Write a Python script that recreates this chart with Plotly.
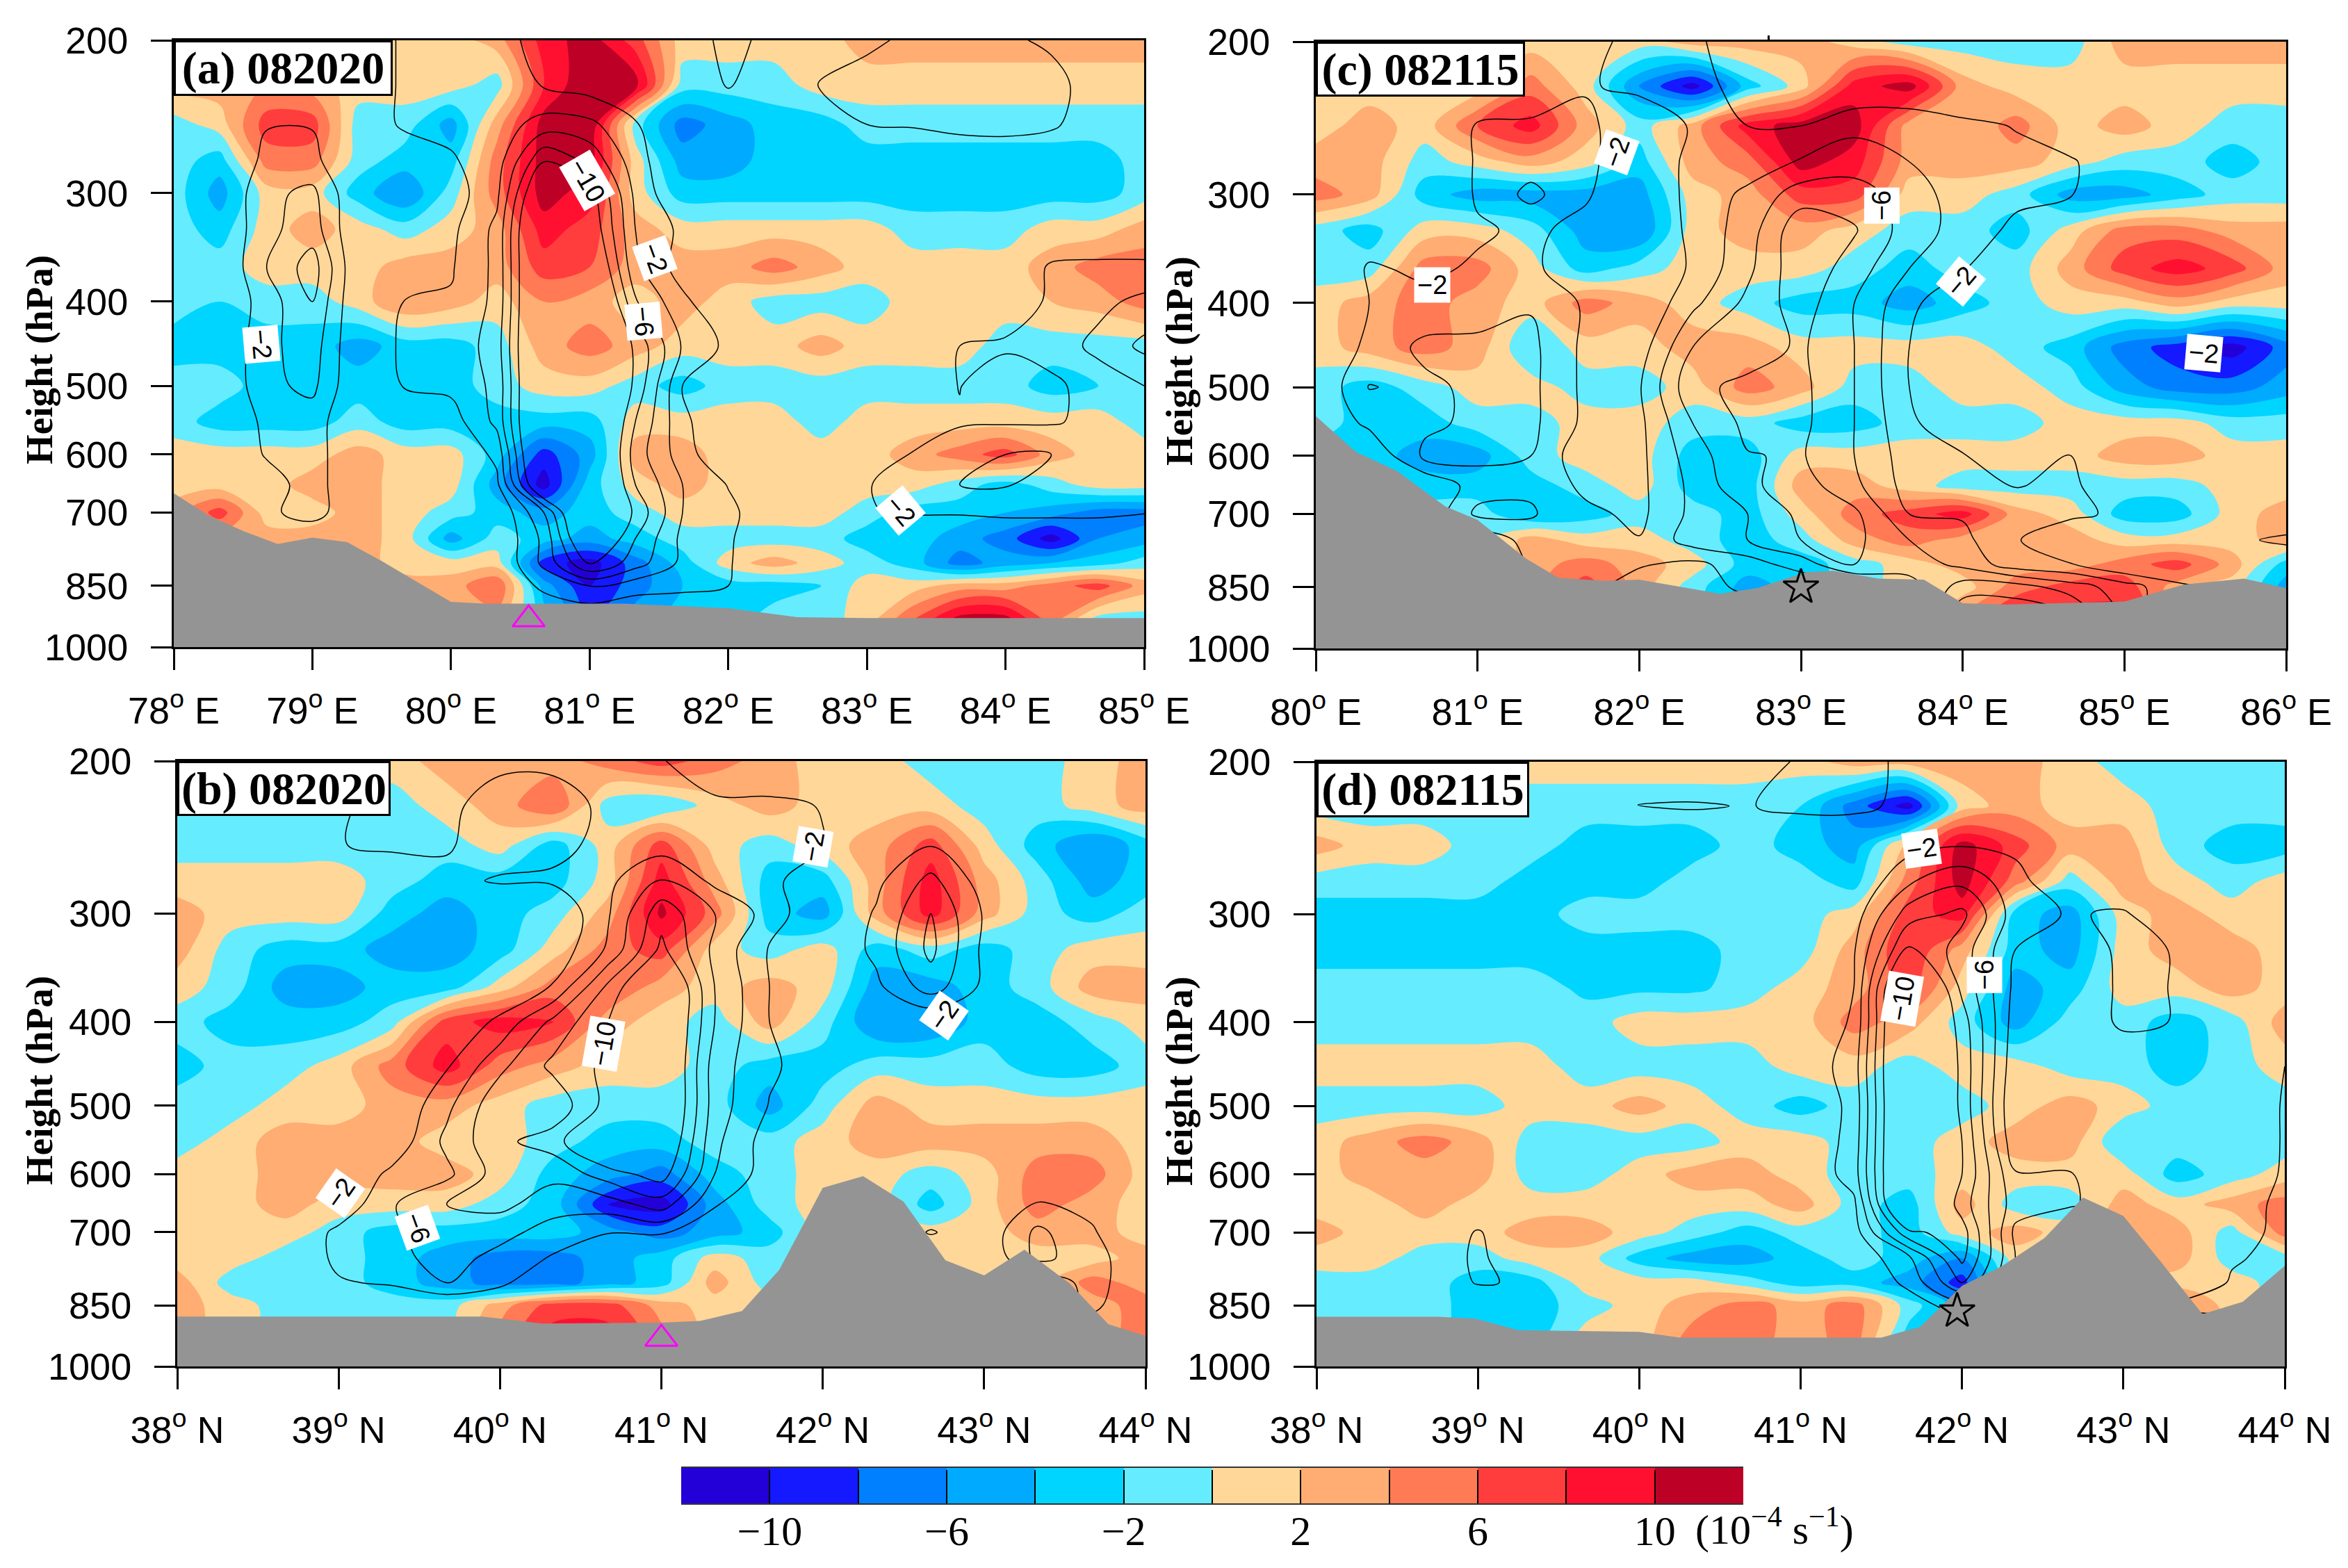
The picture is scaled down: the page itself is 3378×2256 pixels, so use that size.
import math

import plotly.graph_objects as go

levels = [200, 225, 250, 275, 300, 330, 365, 400, 450, 500, 550, 600, 650, 700, 750, 800, 850, 930]

lon_a = [78, 78.33, 78.67, 79, 79.33, 79.67, 80, 80.33, 80.67, 81, 81.33, 81.67, 82, 82.33, 82.67, 83, 83.33, 83.67, 84, 84.33, 84.67, 85]
lon_c = [80, 80.33, 80.67, 81, 81.33, 81.67, 82, 82.33, 82.67, 83, 83.33, 83.67, 84, 84.33, 84.67, 85, 85.33, 85.67, 86]
lat_bd = [38, 38.33, 38.67, 39, 39.33, 39.67, 40, 40.33, 40.67, 41, 41.33, 41.67, 42, 42.33, 42.67, 43, 43.33, 43.67, 44]

# shading: vorticity (10^-4 s^-1)
vort_a = [
    [1,1,1,1,1,1,1,3,9,11,7,1,1,1,1,3,3,3,3,3,3,3],
    [3,3,4,3,1,1,1,-1,8,12,11,-1,-1,-1,1,1,1,1,1,1,1,1],
    [-1,1,7,7,-1,-1,-5,3,11,12,-1,-7,-5,-3,-3,-1,-1,-1,-1,-1,-1,-1],
    [-1,-3,5,5,-1,-3,-3,5,11,11,1,-5,-5,-3,-3,-3,-3,-3,-3,-3,-3,-1],
    [-1,-5,1,1,-3,-6,-1,5,11,9,1,-3,-3,-3,-3,-3,-3,-3,-3,-3,-3,-1],
    [-1,-3,1,3,1,-1,1,3,9,7,3,1,1,1,1,1,-1,-1,-1,1,1,3],
    [-1,-1,1,1,1,3,3,3,7,6,3,3,3,5,3,1,1,1,1,3,5,5],
    [-1,-2,-1,-1,1,4,3,1,4,3,1,3,1,-1,-1,-1,1,1,1,2,3,5],
    [-3,-3,-3,-3,-5,-3,-3,-1,3,5,3,1,1,1,3,1,1,1,-1,-1,-1,-1],
    [-1,-1,-3,-3,-3,-3,-3,-1,1,1,-1,-3,-1,-1,-1,-1,-1,-1,-1,-3,-2,-1],
    [-1,-3,-3,-3,-1,-3,-3,-3,-3,-3,1,1,1,1,-1,1,1,1,1,1,1,-1],
    [1,1,1,1,3,1,1,-3,-9,-5,3,3,1,1,1,1,3,5,7,3,1,1],
    [1,1,1,3,3,1,1,-5,-11,-3,1,3,1,1,1,1,1,-1,-3,-1,1,1],
    [3,7,1,1,3,1,-1,-3,-5,-3,-1,1,1,1,1,-1,-3,-3,-4,-5,-7,-7],
    [3,3,3,3,3,1,-5,-1,-3,-5,-3,-1,-1,-1,-1,-3,-3,-5,-7,-11,-6,-5],
    [3,3,3,3,3,1,1,1,-9,-11,-7,-3,1,3,1,-1,-3,-7,-5,-4,-3,-1],
    [3,3,3,3,3,3,3,6,-5,-10,-7,-4,-3,-3,-2,1,1,3,3,5,7,3],
    [3,3,3,3,3,3,3,3,-3,-8,-5,-3,-3,-1,-1,1,6,11,11,5,-1,-1],
]
vort_c = [
    [1,1,1,1,1,1,1,3,3,3,1,-1,-1,-1,-1,3,3,3,3],
    [1,1,1,1,5,1,-6,-11,-3,1,9,11,3,1,1,1,1,1,1],
    [1,3,1,6,9,3,-1,3,9,11,11,3,2,5,1,3,1,-1,-1],
    [3,3,-1,1,3,1,-3,3,5,11,9,3,3,3,1,-1,-1,-3,-1],
    [5,3,-3,-5,-5,-5,-5,1,3,7,7,1,1,-1,-5,-5,-3,-1,-1],
    [-1,-3,1,1,-1,-5,-6,1,3,3,1,-1,-1,-3,1,5,5,3,3],
    [-1,-1,5,5,1,-3,-1,1,1,1,-1,-3,-1,-1,3,7,9,7,3],
    [1,3,5,3,1,5,3,1,-1,-3,-3,-5,-3,-1,1,1,3,1,1],
    [1,3,5,3,-2,1,1,3,3,1,1,1,1,-1,-3,-7,-9,-11,-7],
    [-1,-3,-1,1,1,-1,-1,1,5,3,-1,-1,1,1,-1,-5,-7,-7,-5],
    [-1,-3,-3,-1,-1,1,1,-1,-1,-3,-3,-1,-1,-1,1,1,1,-1,-1],
    [-3,-3,-5,-5,-1,1,1,-3,-3,1,1,1,1,1,1,3,3,1,1],
    [-3,-3,-3,-3,-3,-1,1,-3,-3,3,3,1,-1,-1,-1,-1,-1,1,1],
    [-1,-1,-1,-1,-4,-3,-1,-1,-3,1,5,7,9,3,1,-3,-3,1,3],
    [-1,-1,-1,-1,3,1,1,-1,-3,-1,3,5,3,3,3,1,1,1,3],
    [-1,-1,-1,-1,3,5,3,1,-3,-3,-1,1,3,3,3,5,7,3,-3],
    [-1,-1,-1,-1,3,7,3,-1,-5,-3,-1,1,1,5,7,7,3,1,-5],
    [-1,-1,-1,-1,3,3,3,-1,-5,-3,-1,1,5,9,9,9,3,1,-5],
]
vort_b = [
    [1,1,1,1,1,3,3,3,5,7,5,3,1,1,-1,-1,-1,1,3],
    [-1,-1,-1,-1,-1,1,3,6,-1,-2,1,3,1,1,1,-1,-1,1,3],
    [-1,-1,-1,-1,-1,-1,1,-3,1,7,1,-1,1,3,7,1,-3,-6,-3],
    [1,1,1,1,-1,-3,-3,-3,1,9,3,-3,-3,3,9,3,-1,-5,-3],
    [3,1,1,1,-3,-5,-3,-1,3,10.5,5,-3,-5,3,9,3,-1,-3,-1],
    [3,-1,-3,-3,-5,-5,-3,1,5,7,1,-1,1,-3,-1,-3,-1,1,1],
    [1,-1,-5,-5,-3,-3,1,5,6,3,1,3,1,-5,-5,-3,-1,3,3],
    [-1,-3,-3,-3,-1,7,9,8,3,1,-1,3,-1,-6,-6,-3,-3,-1,1],
    [-3,-1,-1,1,5,9,5,3,1,1,-1,-3,-3,-1,-1,-1,-3,-3,-1],
    [-1,-1,1,1,3,3,1,-1,-1,-1,-1,-5,-1,3,1,1,1,1,1],
    [-1,1,3,3,3,1,1,-1,-3,-3,-1,-1,1,3,3,3,3,3,1],
    [1,1,3,3,3,3,1,-3,-5,-7,-3,-1,1,1,-1,1,5,5,1],
    [1,1,3,1,1,1,-1,-3,-10,-11,-5,-1,1,1,-3,1,5,3,1],
    [1,1,1,-1,-3,-3,-3,-3,-5,-7,-5,-3,1,1,1,1,3,3,1],
    [1,1,-1,-1,-3,-5,-7,-7,-5,-3,1,-1,1,1,1,1,1,1,3],
    [3,-1,-1,-1,-3,-5,-7,-7,-5,-3,3,-1,1,1,1,1,1,5,3],
    [3,1,-1,-1,-1,-1,3,7,7,3,1,1,1,1,1,1,1,3,5],
    [3,1,-1,-1,-1,-1,5,9,9,5,1,1,1,1,1,1,1,3,5],
]
vort_d = [
    [1,1,1,1,1,1,1,1,1,1,3,3,3,3,1,-1,-1,-1,-1],
    [-1,-1,-1,-1,-1,-1,-1,-1,-1,-2,-7,-11,1,3,1,1,-1,-1,-1],
    [3,1,1,-1,-1,-3,-3,-3,-1,-3,-5,3,11,7,3,3,-1,-3,-3],
    [-1,-1,-1,-1,-3,-3,-3,-1,-1,-1,-3,5,11,5,-1,3,1,-1,1],
    [-3,-3,-3,-3,-3,-1,-1,-1,-1,-1,1,7,9,-3,-5,1,3,1,1],
    [-3,-3,-3,-3,-3,-3,-3,-3,-1,-1,3,8,3,-3,-5,1,3,3,1],
    [-1,-1,-1,-1,-1,-2.5,-2.5,-2.5,-1,1,3,7,1,-5,-3,1,1,3,1],
    [-1,-1,-1,-1,-1,-1,1,1,1,1,5,3,-1,-5,-1,-1,-3,-1,3],
    [1,1,1,1,1,-1,-1,-1,-1,1,1,-1,1,1,-1,-1,-3,-1,1],
    [-1,-1,-1,-1,1,1,3,1,-1,-3,-1,-1,-1,1,3,1,-1,-1,-1],
    [1,3,5,3,-1,-1,-1,-1,1,1,-1,-1,1,3,3,-2,-1,-1,-1],
    [1,3,3,3,-1,-1,1,3,3,1,-1,-1,1,1,1,1,-3,-1,1],
    [1,1,3,1,1,1,1,1,1,3,-1,-3,3,-1,-1,3,1,3,5],
    [3,1,1,1,3,3,1,-1,-3,-1,-1,-3,1,3,1,3,3,-1,5],
    [1,1,-1,-1,1,1,-3,-5,-5,-3,-1,-3,-6,1,1,3,3,-1,-1],
    [-1,-1,-1,-3,-3,1,1,1,-1,-3,-3,-5,-9,1,1,1,1,1,-1],
    [-1,-1,-1,-3,-3,-1,1,3,5,3,5,-1,-5,1,1,1,5,1,-1],
    [-1,-1,-1,-3,-3,1,1,5,5,3,5,-3,-5,1,1,1,7,1,-1],
]

# black contours (negative field only), levels -2 to -10
omega_a = [
    [0,0,0,0,0,-2.5,-2.5,-3.5,-0.5,0,0,0,-3,-1,0,-1.5,-2.5,-2.5,-2.5,-1.5,0,0],
    [0,0,0,0,0,-2.5,-2.5,-3.5,-1.8,-1,0,0,-2.2,-0.5,-2.2,-3,-3,-3,-3,-3,-0.5,0],
    [0,0,-1.9,-1.9,0,-2.5,-2.5,-3,-4.8,-4.5,-2.2,0,0,0,-1,-2,-2.2,-2.8,-3,-2.4,-0.5,0],
    [0,0,-2.5,-2.5,0,0,-1.8,-3,-9.8,-7.5,-2.8,0,0,0,0,0,0,0,0,0,0,0],
    [0,0,-3.5,-4.5,0,0,-1,-3.5,-14,-11,-3.5,0,0,0,0,0,0,0,0,0,0,0],
    [0,0,-3.5,-5,0,0,-1.5,-4.5,-16,-12,-4,-1.5,0,0,0,0,0,0,0,0,0,0],
    [0,0,-4,-7,0,0,-1.8,-4.5,-16,-14,-4.5,-1,0,0,0,0,0,0,0,-2.3,-2.5,-2.5],
    [0,0,-3,-6,0,-2.1,-2.2,-4.5,-16,-16,-6.2,-2.5,0,0,0,0,0,0,0,-2.5,-3.5,-4.5],
    [0,0,-3.5,-5,0,-2.5,-2.5,-5,-16,-16,-9.5,-3.8,-1.5,0,0,0,0,-2,-2.5,-3,-4.5,-6.5],
    [0,0,-3.5,-4.5,0,-2.2,-2.5,-4.5,-16,-16,-9.5,-2,0,0,0,0,0,-2.1,0,-1.5,-3,-4],
    [0,0,-2.5,-3,0,0,-1,-4.5,-16,-16,-8,-2.5,0,0,0,0,0,-1.7,-1.8,-1.8,-2.5,-3],
    [0,0,-2.2,-3,0,0,0,-2.5,-16,-16,-7,-3,0,0,0,0,-2.2,-3.5,-4,-4,-3.5,-2],
    [0,0,-1,-3,0,0,0,-1.5,-14,-16,-8,-4,-1.9,0,0,-1.8,-3.5,-4,-4.2,-2.5,-2.5,-2.5],
    [0,0,-1.5,-3,0,0,0,0,-6,-16,-9.5,-4,-2.5,-0.5,0,-1.9,-2.2,-2.2,-2.5,-2.5,-2.5,-2.1],
    [0,0,0,0,0,0,0,0,-4.5,-14,-8,-3.5,-2.3,0,0,0,0,0,0,0,0,0],
    [0,0,0,0,0,0,0,0,-4.5,-10.2,-7,-3.5,-2.2,0,0,0,0,0,0,0,0,0],
    [0,0,0,0,0,0,0,0,-2.5,-4.2,-2.8,-2.5,-2,0,0,0,0,0,0,0,0,0],
    [0,0,0,0,0,0,0,0,0,0,0,0,0,0,0,0,0,0,0,0,0,0],
]
omega_c = [
    [0,0,0,0,0,-1.5,-2.5,-2.5,-0.5,0,0,0,0,0,0,0,0,0,0],
    [0,0,0,0,0,-1.8,-2.5,-2.5,-1.5,0,0,0,0,0,0,0,0,0,0],
    [0,0,0,-2.2,-2.5,-2.5,-0.5,-2.2,-2,-2,-3.5,-3.5,-2.5,-1.9,0,0,0,0,0],
    [0,0,0,-2.2,-3,-2.5,-0.5,-2.5,-2.8,-4.2,-5,-4,-3,-2.5,-2.3,0,0,0,0],
    [0,0,0,-2.2,-4.6,-2.2,-0.5,-2.5,-4.5,-7,-7,-5,-3,-2.5,-2.1,0,0,0,0],
    [0,-1,0,-1.8,-2.3,-1.5,0,-2.5,-5,-9.5,-8.2,-5,-3.2,-1.5,0,0,0,0,0],
    [0,-2.2,-1.7,-2.2,-2.3,-1,0,-2.3,-5.5,-9.5,-7,-4,-2.2,0,0,0,0,0,0],
    [0,-2,-2.5,-3,-3.8,-1.7,0,-3.5,-6.5,-9,-6,-2.6,0,0,0,0,0,0,0],
    [0,-2.5,-4.5,-4.5,-4.5,-1.5,-1,-6,-7,-8.3,-6,-2,0,0,0,0,0,0,0],
    [0,-4.1,-3.5,-4.5,-4.5,-1.5,-1.8,-7.5,-8.5,-8.5,-6,-2,0,0,0,0,0,0,0],
    [0,-2.5,-3.5,-4.5,-4.5,-1.5,-1.5,-6,-8.5,-8.5,-6,-2.5,0,0,0,0,0,0,0],
    [0,0,-4.5,-4.5,-4,-0.5,-1.5,-5,-7.9,-8.2,-6,-3,-2.2,0,-2.2,0,0,0,0],
    [0,0,0,-3,-3.7,-1.5,-1.5,-4.5,-7.6,-9,-6.5,-3.2,-2.6,-1.9,-2.5,0,0,0,0],
    [0,0,0,-4.5,-4.2,-2.5,-1.5,-4.5,-6,-8.5,-8.5,-4,-3.8,-4,-2.5,-1.5,0,0,0],
    [0,0,0,0,-3,-2,-2.1,-5,-6,-8,-8.5,-6,-4.5,-2.2,0,0,0,-1.5,-2.5],
    [0,0,0,0,-2.2,-2.4,-2.2,-1.5,-3,-5,-8,-7,-5.5,-2.8,-2.1,0,0,0,0],
    [0,0,0,0,0,-2.5,-1,-1,-2.5,-2,-3,-5,-9,-9,-7,-5,-2.5,-1,0],
    [0,0,0,0,0,0,0,0,0,0,0,-5,-12,-12,-11,-6,0,0,0],
]
omega_b = [
    [0,0,0,0,-2.5,-2.5,-2.5,-2.5,-2.5,-2.2,0,0,0,0,0,0,0,0,0],
    [0,0,0,-1.8,-2.5,-2.5,-1,-1,-2.5,-2.5,-2.6,-2.5,-1.9,0,0,0,0,0,0],
    [0,0,0,-1.9,-2.5,-2.2,-1,-1.5,-2.5,-3,-2.5,-2.5,-2.1,0,-1.9,0,0,0,0],
    [0,0,0,0,0,-1.5,-2.2,-2.3,-3.5,-6.3,-3.5,-2.3,-1.2,-1.5,-4.6,-1,0,0,0],
    [0,0,0,0,0,0,0,0,-3.8,-9.2,-6,-3.2,0,-2.2,-6,-1.8,0,0,0],
    [0,0,0,0,0,0,0,-0.5,-4.3,-10.5,-5.5,-1.8,0,-2.5,-6.5,-1.5,0,0,0],
    [0,0,0,0,0,0,0,-2.2,-8.5,-14,-6,-2,0,-1.5,-5,-1.5,0,0,0],
    [0,0,0,0,0,0,-2.5,-6.5,-10,-14,-6,-2,0,0,0,0,0,0,0],
    [0,0,0,0,0,-1.8,-5.5,-8.5,-10.5,-14,-5,-2.3,-1,0,0,0,0,0,0],
    [0,0,0,0,0,-3.5,-7.5,-6.5,-10.8,-14,-5,-1.9,0,0,0,0,0,0,0],
    [0,0,0,0,-0.5,-4.5,-7.5,-9,-14,-13,-4.5,-1,0,0,0,0,0,0,0],
    [0,0,0,0,-2.5,-3.5,-7,-6.5,-9,-11,-4,-1,0,0,0,0,0,0,0],
    [0,0,0,-0.5,-3.8,-6,-6.5,-5,-5,-7,-2.2,0,0,0,0,0,-2.2,-1.5,0],
    [0,0,0,-2.5,-3.5,-5.5,-4.8,-3,-2.1,-2.2,-0.5,0,0,0,-2.2,-0.5,-4.5,-2.2,0],
    [0,0,0,-2.5,-3.2,-5,-3.2,-1.8,0,0,0,0,0,0,0,0,-4.5,-3,0],
    [0,0,0,-1.8,-2.3,-4.2,-2.5,0,0,0,0,0,0,0,0,0,0,-3,0],
    [0,0,0,0,0,0,0,0,0,0,0,0,0,0,0,0,0,-2.5,0],
    [0,0,0,0,0,0,0,0,0,0,0,0,0,0,0,0,0,0,0],
]
omega_d = [
    [0,0,0,0,0,0,0,0,0,-2.5,-2.5,-1.7,0,0,0,0,0,0,0],
    [0,0,0,0,0,0,-2.1,-2.2,-1.9,-2.5,-2.5,-1.5,0,0,0,0,0,0,0],
    [0,0,0,0,0,0,0,0,0,0,0,-1.2,-1.9,-1.5,0,0,0,0,0],
    [0,0,0,0,0,0,0,0,0,0,0,-3.8,-5.5,-2.8,0,0,0,0,0],
    [0,0,0,0,0,0,0,0,0,0,-1,-7,-8.5,-3,-1.8,-2.3,0,0,0],
    [0,0,0,0,0,0,0,0,0,0,-1.8,-10.5,-7,-2,-0.5,-2.5,-1.9,0,0],
    [0,0,0,0,0,0,0,0,0,0,-2,-16,-7.5,-1.5,0,-2.5,-1.9,0,0],
    [0,0,0,0,0,0,0,0,0,0,-2.3,-16,-9,-1,0,-2.5,-1.9,0,0],
    [0,0,0,0,0,0,0,0,0,-0.5,-3,-16,-9.5,-0.5,0,0,0,0,-2],
    [0,0,0,0,0,0,0,0,0,0,-2.6,-16,-9.5,0,0,0,0,0,-2.2],
    [0,0,0,0,0,0,0,0,0,0,-2.8,-16,-10,-0.5,0,0,0,0,-2.2],
    [0,0,0,0,0,0,0,0,0,0,-3,-16,-10,-2.2,-2.2,0,0,0,-2.3],
    [0,0,0,0,0,0,0,0,0,0,-1.5,-16,-9,-3,-2.2,-1,0,-1,-2.5],
    [0,0,0,-2.2,0,0,0,0,0,0,-1,-9.5,-11,-1.5,0,0,0,-1.2,-2.5],
    [0,0,0,-2.5,0,0,0,0,0,0,-0.5,-3.5,-10.5,-2,0,0,0,-1.8,-2.5],
    [0,0,0,-2.2,-1.7,0,0,0,0,0,0,-2.5,-8,-1,0,0,0,-2.2,-2.5],
    [0,0,0,0,0,0,0,0,0,0,0,-1,-3,0,0,0,-2.3,-2.5,0],
    [0,0,0,0,0,0,0,0,0,0,0,0,0,0,0,0,0,0,0],
]

# terrain profile of each section
terrain_lon_a = [78, 78.25, 78.5, 78.75, 79, 79.25, 79.5, 79.75, 80, 80.25, 81.25, 82, 82.5, 83, 85]
terrain_p_a = [665, 705, 735, 761, 748, 757, 796, 840, 887, 891, 891, 902, 924, 926, 926]
terrain_lon_c = [80, 80.25, 80.5, 80.8, 81, 81.3, 81.5, 81.78, 82, 82.5, 82.73, 83.03, 83.2, 83.48, 83.76, 84, 84.27, 85, 85.37, 85.74, 86]
terrain_p_c = [540, 594, 624, 686, 711, 788, 829, 836, 833, 865, 852, 817, 814, 831, 833, 887, 890, 883, 844, 831, 852]
terrain_lat_b = [38, 39.89, 40.26, 41, 41.24, 41.5, 41.73, 42, 42.25, 42.5, 42.76, 43, 43.25, 43.53, 43.77, 44]
terrain_p_b = [876, 876, 892, 890, 886, 863, 774, 622, 603, 645, 754, 785, 733, 802, 894, 922]
terrain_lat_d = [38, 38.76, 38.99, 39.25, 40, 40.25, 41.5, 41.74, 42, 42.25, 42.51, 42.75, 43, 43.23, 43.49, 43.74, 44]
terrain_p_d = [876, 876, 881, 908, 912, 926, 926, 900, 807, 765, 711, 638, 670, 756, 870, 842, 765]

colors = ["#2400D8", "#1419FF", "#0080FF", "#00AAFF", "#00D5FF", "#66ECFF",
          "#FFD799", "#FFAD72", "#FF7A55", "#FF3D3D", "#FF1030", "#BD0026"]
cb_edges = [-12, -10, -8, -6, -4, -2, 0, 2, 4, 6, 8, 10, 12]
cb_mids = [-11, -9, -7, -5, -3, -1, 1, 3, 5, 7, 9, 11]
cb_ticks = [-10, -8, -6, -4, -2, 0, 2, 4, 6, 8, 10]
cb_labels = ["−10", "", "−6", "", "−2", "", "2", "", "6", "", "10"]
p_ticks = [200, 300, 400, 500, 600, 700, 850, 1000]
lon_ticks_a = [78, 79, 80, 81, 82, 83, 84, 85]
lon_ticks_c = [80, 81, 82, 83, 84, 85, 86]
lat_ticks = [38, 39, 40, 41, 42, 43, 44]

W, H = 3378, 2256
PAGE_PAD = 8  # the browser's default body margin shifts the whole figure


def px(v):
    return (v - PAGE_PAD) / W


def py(v):
    return 1 - (v - PAGE_PAD) / H


colorscale = []
for i, c in enumerate(colors):
    colorscale.append([i / 12, c])
    colorscale.append([(i + 1) / 12, c])

fig = go.Figure()


def add_panel(n, box, x, vort, omega, t_x, t_p, ticks, suffix, label_x):
    """box is left, right, top, bottom of the plot area in pixels"""
    xname, yname = ("x", "y") if n == 1 else (f"x{n}", f"y{n}")
    fig.add_trace(go.Contour(
        x=x, y=levels, z=vort, xaxis=xname, yaxis=yname,
        zmin=-12, zmax=12, colorscale=colorscale, hoverinfo="skip",
        contours=dict(coloring="fill", showlines=False, start=-10, end=10, size=2),
        line=dict(width=0, smoothing=1),
        showscale=False,
    ))
    fig.add_trace(go.Contour(
        x=x, y=levels, z=omega, xaxis=xname, yaxis=yname, hoverinfo="skip",
        contours=dict(coloring="none", start=-10, end=-2, size=2),
        line=dict(color="black", width=1.5, smoothing=1),
        showscale=False,
    ))
    fig.add_trace(go.Scatter(
        x=t_x + [t_x[-1], t_x[0]], y=t_p + [1000, 1000], xaxis=xname, yaxis=yname,
        mode="lines", fill="toself", fillcolor="#949494", line=dict(width=0),
        hoverinfo="skip",
    ))
    left, right, top, bottom = box
    tick_font = dict(family="Liberation Sans", size=54, color="black")
    fig.layout[f"xaxis{'' if n == 1 else n}"] = dict(
        domain=[px(left), px(right)], anchor=yname, range=[x[0], x[-1]],
        tickmode="array", tickvals=ticks, ticktext=[f"{t}<sup>o</sup> {suffix}" for t in ticks],
        ticks="outside", ticklen=30, tickwidth=3, tickcolor="black", ticklabelstandoff=12,
        showgrid=False, zeroline=False, showline=True, linecolor="black", linewidth=3, mirror=True,
        tickfont=tick_font,
    )
    fig.layout[f"yaxis{'' if n == 1 else n}"] = dict(
        domain=[py(bottom), py(top)], anchor=xname, type="log", range=[3, 2.30103],
        tickmode="array", tickvals=p_ticks, ticktext=[str(p) for p in p_ticks],
        ticks="outside", ticklen=30, tickwidth=3, tickcolor="black", ticklabelstandoff=22,
        showgrid=False, zeroline=False, showline=True, linecolor="black", linewidth=3, mirror=True,
        tickfont=tick_font,
    )
    fig.add_annotation(x=px(label_x), y=py(top + 460), xref="paper", yref="paper",
                       xanchor="center", yanchor="middle",
                       text="<b>Height (hPa)</b>", textangle=-90, showarrow=False,
                       font=dict(family="Liberation Serif", size=55, color="black"))


add_panel(1, (250, 1646, 58, 931), lon_a, vort_a, omega_a, terrain_lon_a, terrain_p_a, lon_ticks_a, "E", 56)
add_panel(2, (1893, 3289, 60, 933), lon_c, vort_c, omega_c, terrain_lon_c, terrain_p_c, lon_ticks_c, "E", 1696)
add_panel(3, (255, 1648, 1095, 1966), lat_bd, vort_b, omega_b, terrain_lat_b, terrain_p_b, lat_ticks, "N", 56)
add_panel(4, (1894, 3287, 1096, 1966), lat_bd, vort_d, omega_d, terrain_lat_d, terrain_p_d, lat_ticks, "N", 1696)

# site markers
fig.add_trace(go.Scatter(x=[80.56], y=[929], xaxis="x", yaxis="y", mode="markers", hoverinfo="skip",
                         marker=dict(symbol="triangle-up-open", size=40, color="#FF00FF", line=dict(width=3, color="#FF00FF"))))
fig.add_trace(go.Scatter(x=[41], y=[929], xaxis="x3", yaxis="y3", mode="markers", hoverinfo="skip",
                         marker=dict(symbol="triangle-up-open", size=40, color="#FF00FF", line=dict(width=3, color="#FF00FF"))))
fig.add_trace(go.Scatter(x=[83], y=[850], xaxis="x2", yaxis="y2", mode="markers", hoverinfo="skip",
                         marker=dict(symbol="star-open", size=38, color="black", line=dict(width=3, color="black"))))
fig.add_trace(go.Scatter(x=[41.97], y=[863], xaxis="x4", yaxis="y4", mode="markers", hoverinfo="skip",
                         marker=dict(symbol="star-open", size=38, color="black", line=dict(width=3, color="black"))))

# colour bar on its own axes, so it does not push the margins
fig.add_trace(go.Heatmap(x=cb_edges, y=[0, 1], z=[cb_mids], xaxis="x5", yaxis="y5",
                         zmin=-12, zmax=12, colorscale=colorscale, showscale=False, hoverinfo="skip"))
fig.layout["xaxis5"] = dict(
    domain=[px(980), px(2508)], anchor="y5", range=[-12, 12],
    tickmode="array", tickvals=cb_ticks, ticktext=cb_labels,
    ticks="inside", ticklen=48, tickwidth=2, tickcolor="black", ticklabelstandoff=-14,
    showgrid=False, zeroline=False, showline=True, linecolor="#333333", linewidth=2, mirror=True,
    tickfont=dict(family="Liberation Serif", size=60, color="black"),
)
fig.layout["yaxis5"] = dict(domain=[py(2163), py(2112)], anchor="x5", range=[0, 1], visible=False)

# panel titles
titles = [("(a) 082020", 250, 565, 58, 138), ("(c) 082115", 1893, 2194, 60, 139),
          ("(b) 082020", 255, 562, 1095, 1174), ("(d) 082115", 1894, 2200, 1096, 1176)]
for text, x0, x1, y0, y1 in titles:
    fig.add_annotation(x=px((x0 + x1) / 2), y=py((y0 + y1) / 2), xref="paper", yref="paper",
                       xanchor="center", yanchor="middle",
                       text=f"<b>{text}</b>", showarrow=False, width=x1 - x0 - 6, height=y1 - y0 - 6,
                       align="center", valign="middle", bgcolor="white", bordercolor="black", borderwidth=3, borderpad=0,
                       font=dict(family="Liberation Serif", size=66, color="black"))

# contour labels: text, lon/lat, pressure, angle, axis suffix
contour_labels = [
    ("−10", 80.985, 290, 60, ""), ("−2", 81.47, 356, 70, ""), ("−6", 81.39, 421, 85, ""),
    ("−2", 78.63, 448, 85, ""), ("−2", 83.24, 696, 50, ""),
    ("−2", 81.86, 268, -70, "2"), ("−6", 83.5, 309, -90, "2"), ("−2", 80.72, 381, 0, "2"),
    ("−2", 83.99, 378, -50, "2"), ("−2", 85.49, 457, 5, "2"),
    ("−2", 41.94, 251, -80, "3"), ("−10", 40.64, 424, -80, "3"), ("−2", 42.75, 393, -55, "3"),
    ("−2", 39.01, 631, -55, "3"), ("−6", 39.49, 692, 70, "3"),
    ("−2", 41.75, 252, -8, "4"), ("−10", 41.63, 376, -80, "4"), ("−6", 42.14, 353, -90, "4"),
]
for text, x, p, angle, ax in contour_labels:
    fig.add_annotation(x=x, y=math.log10(p), xref=f"x{ax}", yref=f"y{ax}", text=text,
                       xanchor="center", yanchor="middle",
                       textangle=angle, showarrow=False, bgcolor="white", borderpad=4,
                       font=dict(family="Liberation Sans", size=38, color="black"))

# unit next to the colour bar
fig.add_annotation(x=px(2437), y=py(2196), xref="paper", yref="paper", xanchor="left", yanchor="middle",
                   text="(10<sup>−4</sup> s<sup>−1</sup>)", showarrow=False,
                   font=dict(family="Liberation Serif", size=60, color="black"))

# small stray tick above panel c
fig.add_shape(type="line", xref="x2", yref="paper", x0=82.8, x1=82.8, y0=py(60), y1=py(51),
              line=dict(color="black", width=3))

fig.update_layout(width=W, height=H, autosize=False, margin=dict(l=0, r=0, t=0, b=0, autoexpand=False),
                  paper_bgcolor="white", plot_bgcolor="white", showlegend=False)
fig.write_html("out.html")
